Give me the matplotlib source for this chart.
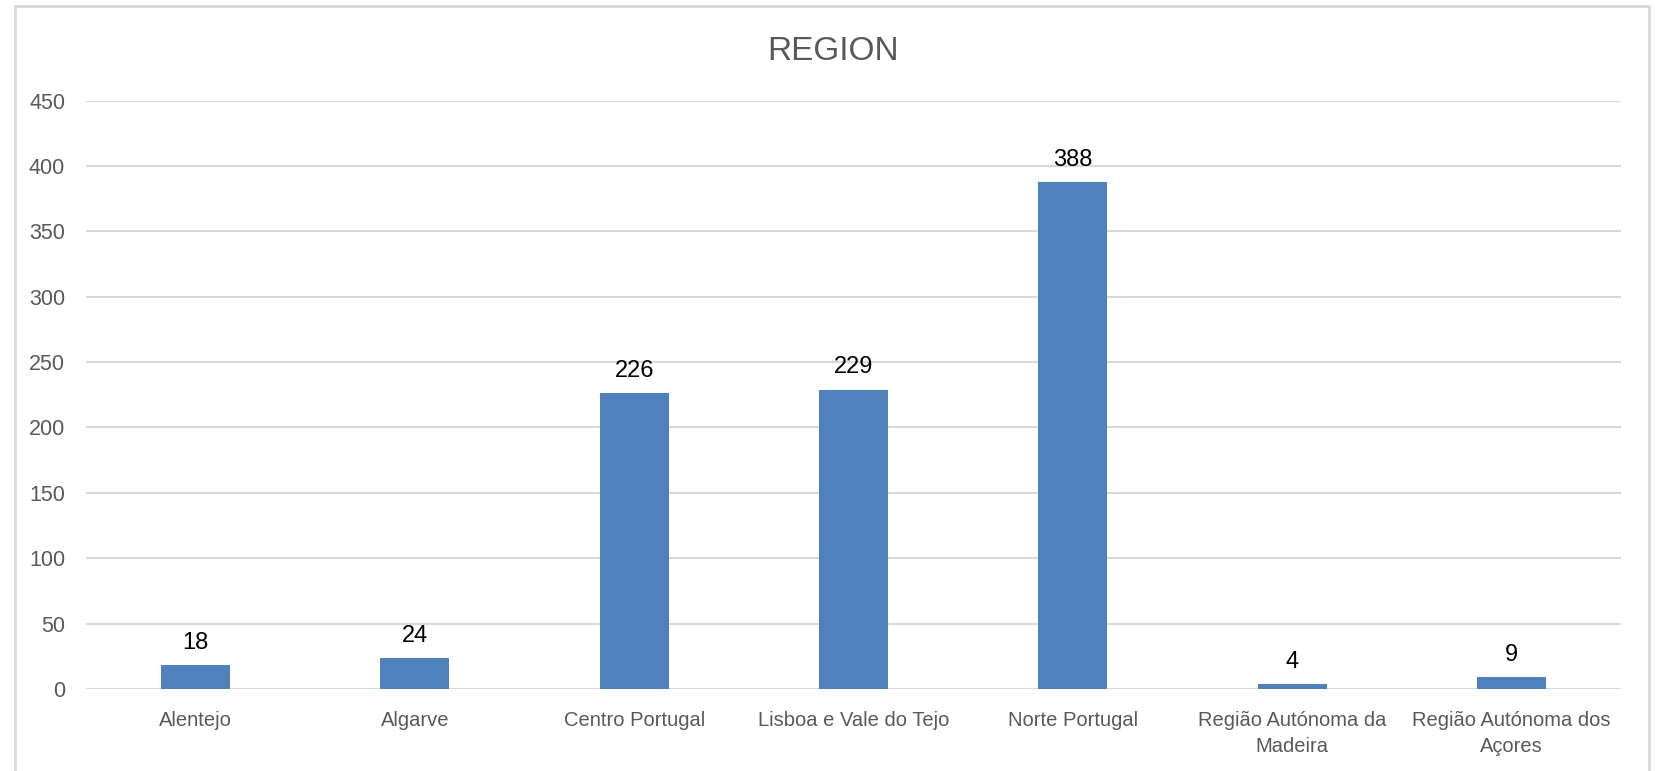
import numpy as np
import matplotlib.pyplot as plt
from matplotlib.patches import Rectangle

regions = ['Alentejo', 'Algarve', 'Centro Portugal', 'Lisboa e Vale do Tejo',
           'Norte Portugal', 'Região Autónoma da\nMadeira', 'Região Autónoma dos\nAçores']
counts = [18, 24, 226, 229, 388, 4, 9]
yticks = [0, 50, 100, 150, 200, 250, 300, 350, 400, 450]

plt.rcParams['font.family'] = ['Liberation Sans Narrow', 'Liberation Sans', 'DejaVu Sans']

fig = plt.figure(figsize=(16.56, 7.71), dpi=100)
ax = fig.add_axes([86/1656, 1-689/771, (1621-86)/1656, (689-100.6)/771])

x = np.arange(len(regions))
bars = ax.bar(x, counts, width=0.315, color='#4f81bd', zorder=3)
# data labels
for xi, v in zip(x, counts):
    ax.annotate(str(v), (xi, v), xytext=(0, 8), textcoords='offset points',
                ha='center', va='bottom', fontsize=17, color='black')

ax.set_xlim(-0.5, len(regions)-0.5)
ax.set_ylim(0, 450)
ax.set_yticks(yticks)
ax.set_xticks(x)
ax.set_xticklabels(regions, fontsize=14.5, color='#595959', linespacing=1.45)
ax.tick_params(axis='y', labelsize=15.5, labelcolor='#595959', length=0, pad=15)
ax.tick_params(axis='x', length=0, pad=16)
ax.grid(axis='y', color='#d9d9d9', linewidth=1.5, zorder=0)
for s in ax.spines.values():
    s.set_visible(False)

fig.text(833/1656, 1-52/771, 'REGION', ha='center', va='center', fontsize=24, color='#595959')

# chart border
fig.patches.append(Rectangle((15/1656, -0.01), (1649-15)/1656, 1.01-6/771,
                             transform=fig.transFigure, fill=False,
                             edgecolor='#d9d9d9', linewidth=2))

fig.savefig('out.png', dpi=100)
